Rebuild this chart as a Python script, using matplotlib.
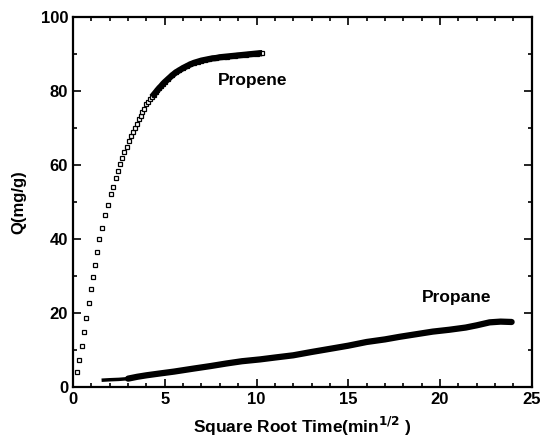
import numpy as np
import matplotlib.pyplot as plt
from matplotlib.ticker import MultipleLocator

plt.rcParams['font.family'] = ['Liberation Sans', 'DejaVu Sans']
plt.rcParams['font.weight'] = 'bold'

# propene uptake (open squares)
propene_x = [0.20, 0.34, 0.49, 0.62, 0.73, 0.87, 0.98, 1.07, 1.18, 1.31,
             1.43, 1.58, 1.74, 1.91, 2.07, 2.20, 2.34, 2.45, 2.56, 2.67,
             2.79, 2.92, 3.04, 3.15, 3.26, 3.37, 3.48, 3.58, 3.68, 3.78,
             3.88, 4.0, 4.1, 4.2, 4.3, 4.4, 4.5, 4.6, 4.7, 4.8, 4.9, 5.0,
             5.2, 5.4, 5.6, 5.8, 6.0, 6.2, 6.4, 6.6, 6.8, 7.0, 7.2, 7.4,
             7.6, 7.8, 8.0, 8.2, 8.4, 8.6, 8.8, 9.0, 9.2, 9.4, 9.6, 9.8,
             10.0, 10.2, 10.3]
propene_y = [4.1, 7.3, 11.2, 15.0, 18.6, 22.6, 26.4, 29.8, 33.1, 36.4,
             39.9, 43.0, 46.4, 49.1, 52.1, 54.1, 56.6, 58.4, 60.3, 61.8,
             63.4, 64.9, 66.5, 67.8, 68.9, 70.0, 71.2, 72.3, 73.2, 74.2,
             75.1, 76.4, 77.1, 77.7, 78.4, 79.0, 79.6, 80.2, 80.8, 81.3,
             81.9, 82.4, 83.3, 84.2, 85.0, 85.6, 86.2, 86.7, 87.2, 87.6,
             87.9, 88.2, 88.4, 88.6, 88.8, 88.9, 89.1, 89.2, 89.3, 89.4,
             89.5, 89.6, 89.7, 89.8, 89.9, 90.0, 90.1, 90.2, 90.2]

# propane uptake (dense filled points)
propane_x = [1.65, 2.0, 2.5, 3.0, 3.5, 4.0, 4.74, 5.5, 6.55, 7.5, 8.37, 9.2,
             10.2, 11.0, 12.0, 13.0, 14.18, 15.0, 16.0, 17.0, 17.8, 18.7,
             19.6, 20.5, 21.4, 22.0, 22.7, 23.3, 23.9]
propane_y = [1.9, 2.0, 2.1, 2.3, 2.8, 3.2, 3.7, 4.2, 5.0, 5.7, 6.4, 7.0,
             7.5, 8.0, 8.6, 9.5, 10.5, 11.2, 12.2, 12.9, 13.6, 14.3,
             15.0, 15.5, 16.1, 16.7, 17.5, 17.7, 17.6]

fig = plt.figure(figsize=(5.41, 4.45), dpi=100)
ax = fig.add_axes([0.135, 0.130, 0.848, 0.832])

px = np.array(propene_x)
py = np.array(propene_y)
ax.plot(px, py, 's', mfc='white', mec='black', ms=3.2, mew=0.9)
# squares overlap into a solid band at larger x
dense = px >= 4.3
ax.plot(px[dense], py[dense], '-', color='black', lw=4.5, solid_capstyle='butt')

# propane: thin start, thicker band afterwards
qx = np.array(propane_x)
qy = np.array(propane_y)
ax.plot(qx[qx <= 3.0], qy[qx <= 3.0], '-', color='black', lw=2.5)
ax.plot(qx[qx >= 3.0], qy[qx >= 3.0], '-', color='black', lw=4.5,
        solid_capstyle='round')

ax.text(7.9, 81.5, 'Propene', fontsize=12.5, fontweight='bold')
ax.text(19.0, 23.0, 'Propane', fontsize=12.5, fontweight='bold')

ax.set_xlim(0, 25)
ax.set_ylim(0, 100)
ax.xaxis.set_major_locator(MultipleLocator(5))
ax.xaxis.set_minor_locator(MultipleLocator(1))
ax.yaxis.set_major_locator(MultipleLocator(20))
ax.yaxis.set_minor_locator(MultipleLocator(10))
ax.tick_params(which='both', direction='in', top=True, right=True,
               labelsize=12, width=1.2)
ax.tick_params(which='major', length=6)
ax.tick_params(which='minor', length=3)
for s in ax.spines.values():
    s.set_linewidth(1.6)

ax.set_xlabel('Square Root Time(min$^{\\mathbf{1/2}}$ )', fontsize=12.5,
              fontweight='bold', labelpad=6)
ax.set_ylabel('Q(mg/g)', fontsize=12, fontweight='bold', labelpad=10)

fig.savefig('out.png', dpi=100)
